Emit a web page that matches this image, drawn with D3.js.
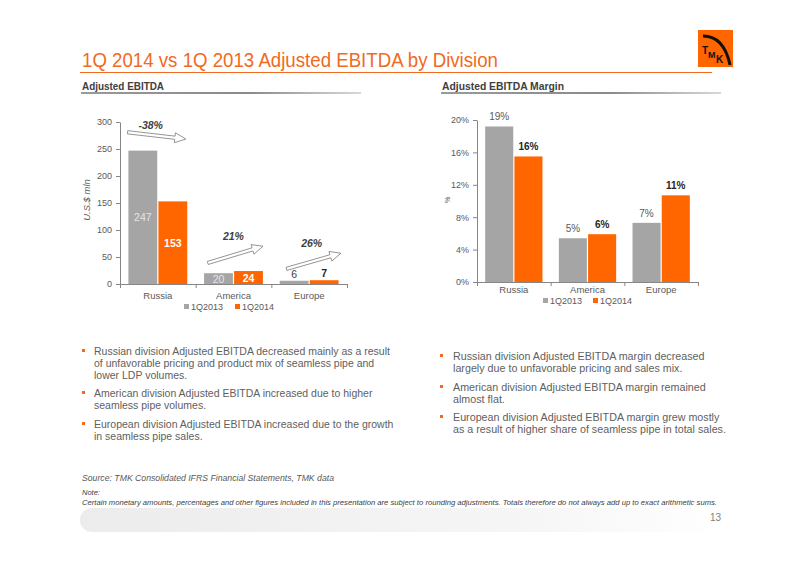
<!DOCTYPE html>
<html><head><meta charset="utf-8">
<script src="https://cdn.jsdelivr.net/npm/d3@7"></script>
<style>body{margin:0;background:#fff} svg{display:block} text{font-family:"Liberation Sans",Arial,sans-serif}</style>
</head><body><svg id="c" width="800" height="565"></svg>
<script>
// ---------- data ----------
const categories = ["Russia", "America", "Europe"];
const seriesNames = ["1Q2013", "1Q2014"];
const ebitda2013 = [247, 20, 6];
const ebitda2014 = [153, 24, 7];
const margin2013 = [19.2, 5.4, 7.3];
const margin2014 = [15.5, 5.9, 10.7];
const marginLabels2013 = ["19%", "5%", "7%"];
const marginLabels2014 = ["16%", "6%", "11%"];
const ebitdaTicks = [0, 50, 100, 150, 200, 250, 300];
const marginTicks = [0, 4, 8, 12, 16, 20];
const changeLabels = ["-38%", "21%", "26%"];
const arrowFrom = [281, 39, 28];     // value level of arrow tail (US$ mln)
const arrowTo = [268.5, 70, 57];     // value level of arrow tip (US$ mln)
const bulletsLeft = [
  ["Russian division Adjusted EBITDA decreased mainly as a result", "of unfavorable pricing and product mix of seamless pipe and", "lower LDP volumes."],
  ["American division Adjusted EBITDA increased due to higher", "seamless pipe volumes."],
  ["European division Adjusted EBITDA increased due to the growth", "in seamless pipe sales."]
];
const bulletsRight = [
  ["Russian division Adjusted EBITDA margin decreased", "largely due to unfavorable pricing and sales mix."],
  ["American division Adjusted EBITDA margin remained", "almost flat."],
  ["European division Adjusted EBITDA margin grew mostly", "as a result of higher share of seamless pipe in total sales."]
];

const GRAY = "#A5A5A5", ORANGE = "#FF6600", TXT = "#595959";
const svg = d3.select("#c");
const defs = svg.append("defs");

const g1 = defs.append("linearGradient").attr("id", "hl");
g1.append("stop").attr("offset", "0%").attr("stop-color", "#9a9a9a");
g1.append("stop").attr("offset", "60%").attr("stop-color", "#8a8a8a");
g1.append("stop").attr("offset", "100%").attr("stop-color", "#d8d8d8");
const g2 = defs.append("linearGradient").attr("id", "fb");
g2.append("stop").attr("offset", "0%").attr("stop-color", "#ececec");
g2.append("stop").attr("offset", "70%").attr("stop-color", "#f6f6f6");
g2.append("stop").attr("offset", "100%").attr("stop-color", "#ffffff");

function fitText(sel, width) {
  const w = sel.node().getComputedTextLength();
  if (w > 0) sel.attr("textLength", width).attr("lengthAdjust", "spacingAndGlyphs");
  return sel;
}

// ---------- title ----------
fitText(svg.append("text").attr("x", 82).attr("y", 67).attr("font-size", 21)
  .attr("fill", "#F26A21").text("1Q 2014 vs 1Q 2013 Adjusted EBITDA by Division"), 416);
svg.append("line").attr("x1", 80).attr("x2", 712).attr("y1", 72.5).attr("y2", 72.5)
  .attr("stroke", "#F26A21").attr("stroke-width", 1.2);

// logo
const logo = svg.append("g").attr("transform", "translate(698,30)");
logo.append("rect").attr("width", 35).attr("height", 37).attr("fill", "#FF6600");
logo.append("path").attr("d", "M5,6 Q26,6 32,35").attr("fill", "none").attr("stroke", "#111").attr("stroke-width", 3);
logo.append("text").attr("x", 4).attr("y", 24).attr("font-size", 10).attr("font-weight", "bold").attr("fill", "#111").text("T");
logo.append("text").attr("x", 10).attr("y", 28).attr("font-size", 9).attr("font-weight", "bold").attr("fill", "#111").text("M");
logo.append("text").attr("x", 18).attr("y", 33).attr("font-size", 10).attr("font-weight", "bold").attr("fill", "#111").text("K");

// section headers
[[82, "Adjusted EBITDA", 82], [442, "Adjusted EBITDA Margin", 122]].forEach(([x, t, w]) => {
  fitText(svg.append("text").attr("x", x).attr("y", 90).attr("font-size", 10.5).attr("font-weight", "bold")
    .attr("fill", "#404040").text(t), w);
  svg.append("rect").attr("x", x - 1).attr("y", 92).attr("width", 280).attr("height", 2).attr("fill", "url(#hl)");
});

// ---------- chart builder ----------
function barChart(opt) {
  const g = svg.append("g");
  const x0 = d3.scaleBand().domain(categories).range(opt.xr);
  const x1 = d3.scaleBand().domain(seriesNames).range([0, x0.bandwidth()]).paddingOuter(0.28).paddingInner(0.04);
  const y = d3.scaleLinear().domain(opt.yd).range(opt.yr);
  const color = d3.scaleOrdinal().domain(seriesNames).range([GRAY, ORANGE]);

  const ya = g.append("g").attr("transform", `translate(${opt.xr[0]},0)`)
    .call(d3.axisLeft(y).tickValues(opt.ticks).tickFormat(opt.fmt).tickSize(4).tickSizeOuter(0).tickPadding(4));
  ya.select(".domain").attr("stroke", "#868686");
  ya.selectAll(".tick line").attr("stroke", "#868686");
  ya.selectAll(".tick text").attr("fill", TXT).attr("font-size", 9).attr("font-family", "Liberation Sans, Arial, sans-serif");

  const rows = categories.map((c, i) => ({ c, vals: [opt.s1[i], opt.s2[i]], labs: [opt.l1[i], opt.l2[i]], i }));
  const grp = g.selectAll(".cat").data(rows).join("g").attr("transform", d => `translate(${x0(d.c)},0)`);
  grp.selectAll("rect").data(d => d.vals.map((v, k) => ({ v, k, s: seriesNames[k] })))
    .join("rect")
    .attr("x", d => x1(d.s)).attr("width", x1.bandwidth())
    .attr("y", d => y(d.v)).attr("height", d => y(0) - y(d.v))
    .attr("fill", d => color(d.s));

  const base = y(0);
  g.append("line").attr("x1", opt.xr[0]).attr("x2", opt.xr[1]).attr("y1", base + 0.5).attr("y2", base + 0.5).attr("stroke", "#868686");
  const bounds = categories.map(c => x0(c)).concat([opt.xr[1]]);
  g.selectAll(".bt").data(bounds).join("line")
    .attr("x1", d => d + 0.5).attr("x2", d => d + 0.5).attr("y1", base).attr("y2", base + 4).attr("stroke", "#868686");
  g.selectAll(".cl").data(categories).join("text")
    .attr("x", d => x0(d) + x0.bandwidth() / 2).attr("y", base + opt.catDy).attr("text-anchor", "middle")
    .attr("font-size", 9.5).attr("fill", TXT).text(d => d);

  g.append("text").attr("transform", `translate(${opt.ytx},${opt.yty}) rotate(-90)`).attr("text-anchor", "middle")
    .attr("font-size", opt.ytSize).attr("font-style", opt.ytStyle).attr("fill", TXT).text(opt.ytitle);

  const lg = g.append("g");
  seriesNames.forEach((s, k) => {
    const lx = opt.legX[k];
    lg.append("rect").attr("x", lx).attr("y", opt.legY - 3).attr("width", 5).attr("height", 5).attr("fill", color(s));
    lg.append("text").attr("x", lx + 7).attr("y", opt.legY + 3).attr("font-size", 9).attr("fill", TXT).text(s);
  });
  return { g, x0, x1, y, grp, rows };
}

// ---------- left chart ----------
const L = barChart({
  xr: [120, 347], yd: [0, 300], yr: [284, 122], ticks: ebitdaTicks, fmt: d3.format("d"),
  s1: ebitda2013, s2: ebitda2014, l1: ebitda2013, l2: ebitda2014,
  ytitle: "U.S.$ mln", ytx: 90, yty: 200, ytSize: 9.5, ytStyle: "italic",
  legX: [184, 235], legY: 307, catDy: 15
});
L.rows.forEach(r => {
  r.vals.forEach((v, k) => {
    const s = seriesNames[k];
    const cx = L.x0(r.c) + L.x1(s) + L.x1.bandwidth() / 2;
    const tall = L.y(0) - L.y(v) > 9;
    const yy = tall ? (L.y(v) + L.y(0)) / 2 + 4 : L.y(v) - 3;
    const weight = k === 1 ? "bold" : "normal";
    const fill = tall ? (k === 1 ? "#ffffff" : "#e6e6e6") : (k === 1 ? "#262626" : "#404040");
    L.g.append("text").attr("x", cx).attr("y", yy).attr("text-anchor", "middle").attr("font-size", 10.5)
      .attr("font-weight", weight).attr("fill", fill).text(v);
  });
});
function blockArrow(x1, y1, x2, y2) {
  const dx = x2 - x1, dy = y2 - y1, len = Math.hypot(dx, dy);
  const ux = dx / len, uy = dy / len, nx = -uy, ny = ux;
  const sw = 1.6, hw = 5, hl = 11;
  const bx = x2 - ux * hl, by = y2 - uy * hl;
  const pts = [
    [x1 + nx * sw, y1 + ny * sw], [bx + nx * sw, by + ny * sw], [bx + nx * hw, by + ny * hw], [x2, y2],
    [bx - nx * hw, by - ny * hw], [bx - nx * sw, by - ny * sw], [x1 - nx * sw, y1 - ny * sw]
  ];
  return "M" + pts.map(p => p.join(",")).join("L") + "Z";
}
categories.forEach((c, i) => {
  const bw = L.x0.bandwidth();
  const xa = L.x0(c) + bw * (i === 0 ? 0.10 : i === 1 ? 0.16 : 0.20);
  const xb = L.x0(c) + bw * (i === 0 ? 0.87 : i === 1 ? 0.89 : 0.92);
  const ya = L.y(arrowFrom[i]), yb = L.y(arrowTo[i]);
  L.g.append("path").attr("d", blockArrow(xa, ya, xb, yb)).attr("fill", "#fff").attr("stroke", "#7a7a7a").attr("stroke-width", 0.8);
  const lx = i === 0 ? (xa + xb) / 2 - 6 : (xa + xb) / 2 - 2;
  const ly = Math.min(ya, yb) - (i === 0 ? 3 : 6);
  L.g.append("text").attr("x", lx).attr("y", ly).attr("text-anchor", "middle").attr("font-size", 10.5)
    .attr("font-weight", "bold").attr("font-style", "italic").attr("fill", "#404040").text(changeLabels[i]);
});

// ---------- right chart ----------
const R = barChart({
  xr: [477, 698], yd: [0, 20], yr: [282, 120], ticks: marginTicks, fmt: d => d + "%",
  s1: margin2013, s2: margin2014, l1: marginLabels2013, l2: marginLabels2014,
  ytitle: "%", ytx: 450, yty: 200, ytSize: 7, ytStyle: "normal",
  legX: [543, 593], legY: 301, catDy: 11
});
R.rows.forEach(r => {
  r.labs.forEach((lab, k) => {
    const s = seriesNames[k];
    const cx = R.x0(r.c) + R.x1(s) + R.x1.bandwidth() / 2;
    R.g.append("text").attr("x", cx).attr("y", R.y(r.vals[k]) - 6).attr("text-anchor", "middle").attr("font-size", 10)
      .attr("font-weight", k === 1 ? "bold" : "normal").attr("fill", k === 1 ? "#262626" : TXT).text(lab);
  });
});

// ---------- bullets ----------
function bullets(list, bx, tx, starts, sx) {
  list.forEach((lines, bi) => {
    svg.append("rect").attr("x", bx).attr("y", starts[bi] - 2).attr("width", 3).attr("height", 3).attr("fill", "#F26A21");
    const g = svg.append("g").attr("transform", `translate(${tx},0) scale(${sx},1)`);
    lines.forEach((t, li) => {
      g.append("text").attr("x", 0).attr("y", starts[bi] + 4 + li * 12.2).attr("font-size", 11).attr("fill", "#606060").text(t);
    });
  });
}
bullets(bulletsLeft, 82, 94, [351, 393, 424], 0.955);
bullets(bulletsRight, 440, 453, [356, 387, 417], 0.975);

// ---------- footer ----------
svg.append("rect").attr("x", 80).attr("y", 508).attr("width", 645).attr("height", 24).attr("rx", 12).attr("fill", "url(#fb)");
fitText(svg.append("text").attr("x", 82).attr("y", 481).attr("font-size", 9).attr("font-style", "italic").attr("fill", TXT)
  .text("Source: TMK Consolidated IFRS Financial Statements, TMK data"), 252);
svg.append("text").attr("x", 82).attr("y", 495).attr("font-size", 7.5).attr("font-style", "italic").attr("fill", "#404040").text("Note:");
fitText(svg.append("text").attr("x", 82).attr("y", 505).attr("font-size", 7.8).attr("font-style", "italic").attr("fill", "#404040")
  .text("Certain monetary amounts, percentages and other figures included in this presentation are subject to rounding adjustments. Totals therefore do not always add up to exact arithmetic sums."), 635);
svg.append("text").attr("x", 721).attr("y", 521).attr("text-anchor", "end").attr("font-size", 10).attr("fill", "#7f7f7f").text("13");
</script></body></html>
